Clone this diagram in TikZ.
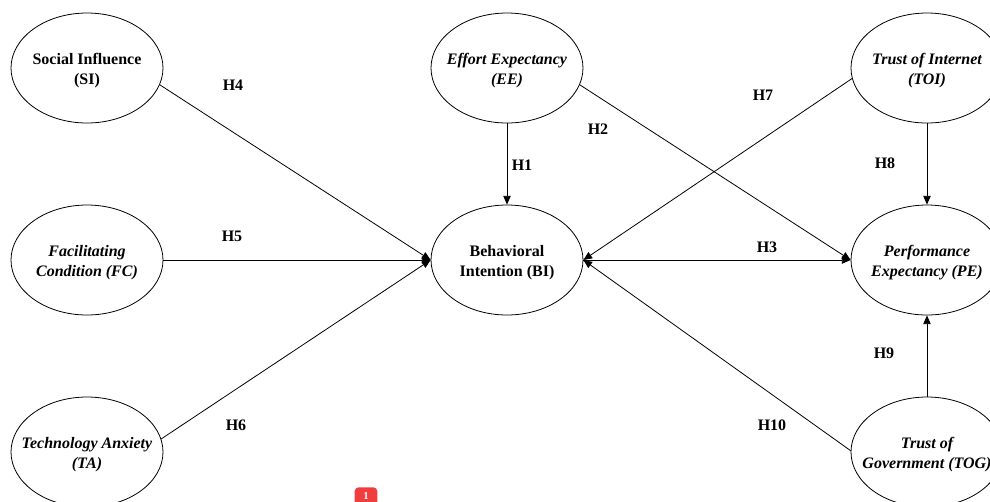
\documentclass[tikz,border=0pt]{standalone}
\usepackage{fontspec}
\setmainfont{Liberation Serif}
\usetikzlibrary{arrows.meta,shapes.geometric}
\definecolor{badgered}{RGB}{240,62,62}
\begin{document}
\begin{tikzpicture}[x=0.75pt,y=-0.75pt,
  oval/.style={draw,ellipse,line width=0.6pt,minimum width=114pt,minimum height=82.5pt,inner sep=0pt},
  txt/.style={align=center,font=\fontsize{12}{15}\selectfont\bfseries,inner sep=0pt,yshift=-2pt},
  itxt/.style={align=center,font=\fontsize{12}{15}\selectfont\bfseries\itshape,inner sep=0pt,yshift=-2pt},
  hyp/.style={font=\fontsize{12}{14}\selectfont\bfseries,inner sep=0pt},
  link/.style={draw,line width=0.6pt,-{Triangle[length=6.5pt,width=5.5pt]}}
]
\useasboundingbox (0,0) rectangle (990,501);
\clip (0,0) rectangle (990,501);
\fill[white] (0,0) rectangle (990,501);

% ellipses
\node[oval] (SI)  at (87,68)  {};
\node[oval] (FC)  at (87,260) {};
\node[oval] (TA)  at (87,452) {};
\node[oval] (EE)  at (507,68) {};
\node[oval] (BI)  at (507,260) {};
\node[oval] (TOI) at (927,68) {};
\node[oval] (PE)  at (927,260) {};
\node[oval] (TOG) at (927,452) {};

% texts
\node[txt]  (SIt)  at (SI)  {Social Influence\\(SI)};
\node[itxt] (FCt)  at (FC)  {Facilitating\\Condition (FC)};
\node[itxt] (TAt)  at (TA)  {Technology Anxiety\\(TA)};
\node[itxt] (EEt)  at (EE)  {Effort Expectancy\\(EE)};
\node[txt]  (BIt)  at (BI)  {Behavioral\\Intention (BI)};
\node[itxt] (TOIt) at (TOI) {Trust of Internet\\(TOI)};
\node[itxt] (PEt)  at (PE)  {Performance\\Expectancy (PE)};
\node[itxt] (TOGt) at (TOG) {Trust of\\Government (TOG)};

% connectors
\draw[link] (SI.-13) -- (BI.west);
\draw[link] (FC.east) -- (BI.west);
\draw[link] (TA.10) -- (BI.west);
\draw[link] (EE.south) -- (BI.north);
\draw[link] (EE.-13) -- (PE.west);
\draw[link] (TOI.188) -- (BI.east);
\draw[link] (TOI.south) -- (PE.north);
\draw[link] (BI.east) -- (PE.west);
\draw[link] (TOG.north) -- (PE.south);
\draw[link] (TOG.179) -- (BI.east);

% hypothesis labels
\node[hyp] (H1)  at (522,165) {H1};
\node[hyp] (H2)  at (598,129) {H2};
\node[hyp] (H3)  at (767,247) {H3};
\node[hyp] (H4)  at (233,85)  {H4};
\node[hyp] (H5)  at (232,236) {H5};
\node[hyp] (H6)  at (236,425) {H6};
\node[hyp] (H7)  at (763,95)  {H7};
\node[hyp] (H8)  at (885,163) {H8};
\node[hyp] (H9)  at (884,353) {H9};
\node[hyp] (H10) at (772,425) {H10};

% badge
\node[fill=badgered,rounded corners=3pt,minimum width=17pt,minimum height=16pt,
      text=white,font=\fontsize{8}{8}\selectfont\bfseries,anchor=north,inner sep=1pt,
      text depth=0pt] (badge) at (366,487) {\raisebox{3pt}{1}};
\end{tikzpicture}
\end{document}
